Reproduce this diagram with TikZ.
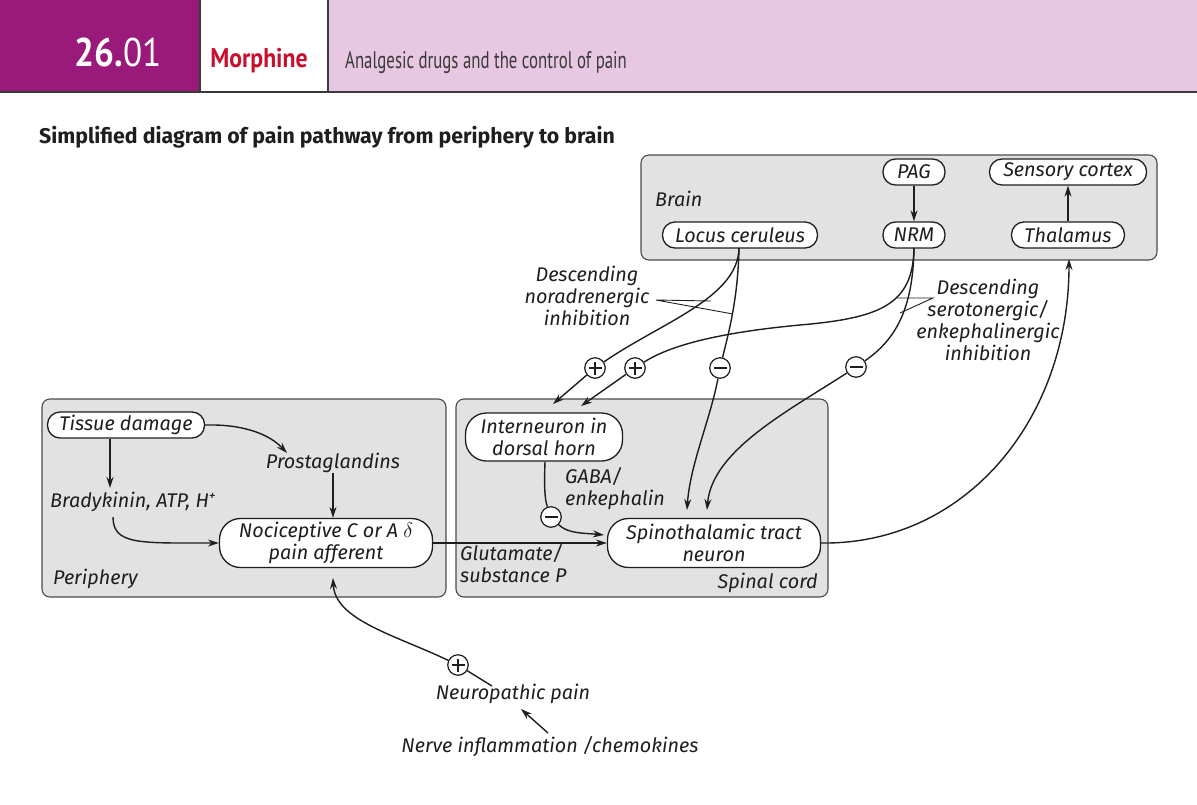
\documentclass[tikz,border=0pt]{standalone}
\usepackage{fontspec}
\setmainfont{Fira Sans}
\newfontfamily\condfont[FakeStretch=0.7]{PT Sans}
\newfontfamily\condbold[FakeStretch=0.88]{PT Sans}
\usetikzlibrary{arrows.meta}
\definecolor{mag}{HTML}{9A1A7C}
\definecolor{pinkbg}{HTML}{E7C7E1}
\definecolor{boxgray}{HTML}{E2E2E2}
\definecolor{linec}{HTML}{1E1E1E}
\definecolor{redm}{HTML}{C8102E}
\definecolor{headline}{HTML}{3A3A3A}
\begin{document}
\begin{tikzpicture}[x=1pt,y=-1pt,
  lbl/.style={font=\fontsize{19.8}{22}\selectfont\itshape, inner sep=0pt, align=center, text=linec},
  region/.style={draw=linec!80, fill=boxgray, rounded corners=8pt, line width=1.1pt},
  pill/.style={draw=linec, fill=white, line width=1.3pt, inner sep=0pt, align=center,
     font=\fontsize{19.8}{22}\selectfont\itshape, text=linec, rounded corners=12.5pt, minimum height=26pt},
  pilltwo/.style={pill, rounded corners=21pt, minimum height=49pt},
  sig/.style={circle, draw=linec, fill=white, minimum size=20.5pt, inner sep=0pt, line width=1.2pt},
  sminus/.style={sig, path picture={\draw[line width=1.3pt] ([xshift=-6.5pt]path picture bounding box.center) -- ([xshift=6.5pt]path picture bounding box.center);}},
  splus/.style={sig, path picture={\draw[line width=1.3pt] ([xshift=-6.5pt]path picture bounding box.center) -- ([xshift=6.5pt]path picture bounding box.center) ([yshift=-6.5pt]path picture bounding box.center) -- ([yshift=6.5pt]path picture bounding box.center);}},
  arr/.style={-{Stealth[length=11pt,width=7pt]}, line width=1.4pt, draw=linec},
  ln/.style={line width=1.4pt, draw=linec},
  ptr/.style={line width=0.9pt, draw=linec}]
\useasboundingbox (0,0) rectangle (1197,804);
% header
\fill[mag] (0,0) rectangle (200,92);
\fill[white] (200,0) rectangle (328,92);
\fill[pinkbg] (328,0) rectangle (1197,92);
\draw[headline, line width=1.6pt] (200,0) -- (200,92) (328,0) -- (328,92);
\draw[headline, line width=2.6pt] (0,92) -- (1197,92);
\node[anchor=base, text=white, font=\condbold\fontsize{40}{44}\selectfont, inner sep=0pt] (num) at (118,66) {\textbf{26.}01};
\node[anchor=base, text=redm, font=\condbold\bfseries\fontsize{27}{30}\selectfont, inner sep=0pt] (drug) at (259,67) {Morphine};
\node[anchor=base west, text=headline, font=\condfont\fontsize{24}{28}\selectfont, inner sep=0pt] (topic) at (345,68) {Analgesic drugs and the control of pain};
% title
\node[anchor=base west, font=\bfseries\fontsize{21.3}{24}\selectfont, inner sep=0pt, text=linec] (title) at (39,143) {Simplified diagram of pain pathway from periphery to brain};
% regions
\draw[region] (641,155) rectangle (1157,260);
\draw[region] (42,399) rectangle (446,597);
\draw[region] (456,399) rectangle (828,597);
% brain
\node[pill, minimum width=62pt] (pag) at (914,172) {PAG};
\node[pill, minimum width=157pt] (sc) at (1068,172) {Sensory cortex};
\node[pill, minimum width=155pt] (lc) at (740,235) {Locus ceruleus};
\node[pill, minimum width=62pt] (nrm) at (914,235) {NRM};
\node[pill, minimum width=113pt] (th) at (1068,235) {Thalamus};
\node[lbl, anchor=west] (brain) at (655,199) {Brain};
\draw[arr] (pag) -- (nrm);
\draw[arr] (th) -- (sc);
% periphery
\node[pill, minimum width=157pt] (td) at (126,425) {Tissue damage};
\node[lbl] (pg) at (333,463) {Prostaglandins};
\node[lbl, anchor=west] (bk) at (50,502) {Bradykinin, ATP, H\textsuperscript{+}};
\node[pilltwo, minimum width=213pt] (noc) at (326,543) {Nociceptive C or A $\delta$\\pain afferent};
\node[lbl, anchor=west] (per) at (53,579) {Periphery};
\coordinate (tdb) at (110,439);
\coordinate (bkt) at (110,488);
\draw[arr] (tdb) -- (bkt);
\coordinate (pgt) at (287,453);
\draw[arr] (td.east) .. controls (245,424) and (270,435) .. (pgt);
\draw[arr] (pg.south -| 333,0) -- (noc.north -| 333,0);
\coordinate (bks) at (113,517);
\draw[arr] (bks) .. controls (113,545) and (140,543) .. (noc.west);
% spinal cord
\node[pilltwo, minimum width=157pt, minimum height=48pt] (in) at (544,437) {Interneuron in\\dorsal horn};
\node[pilltwo, minimum width=213pt] (st) at (714,543) {Spinothalamic tract\\neuron};
\node[lbl, anchor=west, align=left] (gaba) at (565,489) {GABA/\\enkephalin};
\node[lbl, anchor=west, align=left] (glu) at (460,564) {Glutamate/\\substance P};
\node[lbl, anchor=east] (spc) at (818,583) {Spinal cord};
\draw[arr] (noc.east) -- (st.west);
\node[sminus] (m3) at (551,517) {};
\draw[ln] (in.south -| 545,0) .. controls (544,490) and (545,500) .. (m3);
\coordinate (t5) at (604,535);
\draw[arr] (m3) .. controls (568,534) and (585,533) .. (t5);
% descending
\node[splus] (p1) at (595,368) {};
\node[splus] (p2) at (635,368) {};
\node[sminus] (m1) at (720,368) {};
\node[sminus] (m2) at (856,367) {};
\coordinate (t1) at (553,404);
\coordinate (t3) at (581,406);
\coordinate (t2) at (687,510);
\coordinate (t4) at (707,510);
\coordinate (lcs) at (739,248);
\coordinate (nrms) at (914,248);
\draw[ln] (lcs) .. controls (738,298) and (662,322) .. (p1);
\draw[arr] (p1) -- (t1);
\draw[ln] (lcs) .. controls (738,300) and (728,335) .. (m1);
\draw[arr] (m1) .. controls (710,420) and (690,465) .. (t2);
\draw[ln] (nrms) .. controls (913,305) and (880,318) .. (800,325) .. controls (725,332) and (672,344) .. (p2);
\draw[arr] (p2) -- (t3);
\draw[ln] (nrms) .. controls (913,310) and (895,340) .. (m2);
\draw[arr] (m2) .. controls (790,410) and (712,450) .. (t4);
\coordinate (stthr) at (1069,259);
\draw[arr] (st.east) .. controls (965,545) and (1069,420) .. (stthr);
% labels of descending paths
\node[lbl] (nor) at (587,296) {Descending\\noradrenergic\\inhibition};
\coordinate (nj) at (656,300);
\coordinate (nc1) at (711,301);
\coordinate (nc2) at (733,314);
\draw[ptr] (nc1) -- (nj) -- (nc2);
\node[lbl] (ser) at (988,320) {Descending\\serotonergic/\\enkephalinergic\\inhibition};
\coordinate (sj) at (933,298);
\coordinate (sc1) at (897,298);
\coordinate (sc2) at (900,313);
\draw[ptr] (sc1) -- (sj) -- (sc2);
% neuropathic
\node[lbl] (np) at (513,694) {Neuropathic pain};
\node[lbl] (ni) at (550,747) {Nerve inflammation /chemokines};
\node[splus] (p3) at (458,665) {};
\coordinate (npt) at (492,686);
\coordinate (noct) at (333,578);
\draw[ln] (npt) -- (p3);
\draw[arr] (p3) .. controls (395,635) and (335,620) .. (noct);
\coordinate (nis) at (548,733);
\coordinate (npb) at (521,709);
\draw[arr] (nis) -- (npb);
\end{tikzpicture}
\end{document}
